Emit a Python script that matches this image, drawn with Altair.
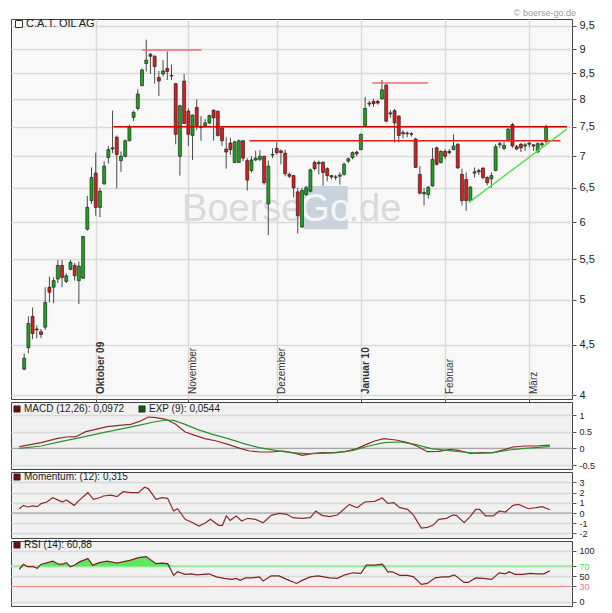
import altair as alt
import pandas as pd

# ---------------- data ----------------
opens = [4.25,4.47,4.81,4.67,4.64,4.69,5.15,5.15,5.25,5.42, 5.22,5.37,5.42,5.23,5.26,5.90,6.31,6.73,6.21,6.56,
         6.98,7.14,7.32,6.93,7.00,7.26,7.67,7.83,8.26,8.70, 8.89,8.85,8.42,8.49,8.60,8.46,8.30,7.00,8.35,7.78,
         7.35,7.85,7.51,7.52,7.57,7.80,7.78,7.48,7.12,7.22, 6.90,6.90,7.26,6.93,6.77,6.94,6.95,7.00,6.26,7.02,
         7.13,7.09,7.05,6.71,6.69,6.44,5.93,6.40,6.45,6.90, 6.88,6.90,6.80,6.69,6.66,6.68,6.71,6.92,6.98,7.07,
         7.11,7.52,7.91,7.96,7.96,8.01,8.27,7.73,7.79,7.69, 7.40,7.39,7.38,7.29,6.71,6.41,6.40,6.53,7.14,6.90,
         7.08,7.06,7.11,7.20,6.71,6.63,6.31,6.73,6.77,6.81, 6.66,6.64,6.77,7.19,7.13,7.26,7.54,7.16,7.20,7.17,
         7.20,7.19,7.07,7.19,7.25]
highs = [4.41,4.81,4.91,4.71,4.67,5.15,5.28,5.27,5.49,5.49, 5.32,5.49,5.45,5.47,5.81,6.38,6.82,7.06,6.50,6.92,
         7.17,7.79,7.35,7.08,7.28,7.54,7.79,8.19,8.60,9.20, 8.92,8.87,8.55,8.77,8.95,8.68,8.31,7.90,8.49,7.83,
         7.72,8.00,7.69,7.64,7.72,7.81,7.79,7.49,7.32,7.31, 7.26,7.28,7.27,6.97,7.00,7.09,7.10,7.01,6.93,7.13,
         7.23,7.11,7.11,6.74,6.70,6.50,6.50,6.53,6.80,6.93, 6.93,6.92,6.82,6.70,6.70,6.74,6.90,6.98,7.08,7.09,
         7.38,8.05,7.97,8.01,7.99,8.37,8.30,7.80,7.82,7.71, 7.44,7.42,7.41,7.31,6.84,6.50,6.53,7.14,7.16,7.10,
         7.12,7.12,7.37,7.22,6.80,6.74,6.53,6.82,6.80,6.82, 6.68,6.74,7.20,7.24,7.24,7.48,7.57,7.19,7.22,7.22,
         7.24,7.20,7.23,7.24,7.54]
lows = [4.24,4.41,4.56,4.57,4.57,4.66,4.97,4.96,5.20,5.15, 5.20,5.36,5.23,4.95,5.25,5.88,6.26,6.09,6.07,6.55,
        6.88,7.05,6.49,6.75,6.98,7.25,7.60,7.79,8.25,8.54, 8.49,8.30,8.06,8.44,8.37,8.37,7.20,6.69,7.55,7.17,
        6.94,7.44,7.26,7.49,7.55,7.26,7.33,7.17,6.80,7.02, 6.89,6.89,6.92,6.46,6.74,6.92,6.92,6.55,5.82,6.97,
        7.03,6.87,6.68,6.65,6.36,5.84,5.92,6.38,6.43,6.77, 6.71,6.53,6.60,6.63,6.62,6.55,6.69,6.89,6.95,7.00,
        7.10,7.51,7.86,7.86,7.90,8.00,7.58,7.66,7.23,7.23, 7.30,7.32,7.33,6.81,6.40,6.24,6.34,6.52,6.85,6.88,
        6.95,7.03,7.10,6.80,6.24,6.16,6.30,6.66,6.70,6.63, 6.54,6.50,6.76,7.14,7.10,7.24,7.14,7.10,7.07,7.09,
        7.15,7.09,7.06,7.14,7.21]
closes = [4.36,4.73,4.62,4.66,4.61,4.97,5.09,5.23,5.42,5.27, 5.29,5.46,5.29,5.41,5.80,6.21,6.66,6.21,6.45,6.84,
          7.11,7.12,7.03,7.00,7.26,7.50,7.76,8.10,8.57,8.77, 8.85,8.64,8.35,8.55,8.54,8.45,7.37,7.88,7.56,7.37,
          7.71,7.52,7.49,7.57,7.70,7.66,7.35,7.26,7.07,7.11, 7.24,7.26,6.97,6.62,6.94,6.97,7.00,6.58,6.84,7.03,
          7.06,7.06,6.72,6.68,6.50,6.09,6.46,6.50,6.78,6.80, 6.90,6.74,6.69,6.67,6.67,6.70,6.87,6.96,7.06,7.04,
          7.37,7.83,7.93,7.92,7.93,8.18,7.60,7.75,7.57,7.35, 7.38,7.38,7.37,6.82,6.42,6.43,6.51,6.95,6.87,7.08,
          7.00,7.08,7.17,6.81,6.31,6.31,6.51,6.75,6.75,6.66, 6.58,6.69,7.16,7.21,7.18,7.46,7.17,7.12,7.14,7.19,
          7.22,7.17,7.21,7.21,7.49]

month_labels = ["Oktober 09", "November", "Dezember", "Januar 10", "Februar", "März"]
month_start = [17, 39, 60, 80, 100, 120]
month_bold = [True, False, False, True, False, False]
price_ticks = [4, 4.5, 5, 5.5, 6, 6.5, 7, 7.5, 8, 8.5, 9, 9.5]

# drawn resistance / support / trend lines (trading-day index, price)
line_x0 = [28.0, 21.2, 53.5, 82.7, 105.6]
line_x1 = [42.1, 128.96, 127.4, 95.9, 128.9]
line_y0 = [8.98, 7.50, 7.26, 8.31, 6.28]
line_y1 = [8.98, 7.50, 7.26, 8.31, 7.46]
line_col = ["#f26b6b", "#cc0000", "#ea1c1c", "#f26b6b", "#4fe04f"]

macd_x = [0, 5.1, 8.7, 11, 13.2, 15.5, 17.8, 20.5, 23.3, 26, 28.3, 30.1, 31.9, 34.2, 36.5, 38.7, 41, 43.3, 46,
          48.7, 51.5, 53.7, 56, 58.7, 61.5, 63.8, 66, 68.3, 70.6, 73.3, 76, 78.8, 81, 82.9, 85.1, 87.9, 90.6,
          92.4, 95.2, 97.9, 100.6, 102.4, 105.2, 107.9, 110.6, 113.4, 115.2, 117.9, 120.6, 123.8]
macd_v = [0.05, 0.17, 0.29, 0.34, 0.35, 0.50, 0.57, 0.65, 0.69, 0.72, 0.82, 0.94, 0.92, 0.87, 0.72, 0.49, 0.39,
          0.29, 0.22, 0.12, 0.0, -0.08, -0.11, -0.11, -0.08, -0.13, -0.21, -0.16, -0.13, -0.13, -0.10, -0.01,
          0.12, 0.22, 0.29, 0.25, 0.17, 0.09, -0.10, -0.09, -0.03, -0.06, -0.15, -0.13, -0.13, -0.03, 0.04,
          0.07, 0.07, 0.097]
exp_x = [0, 5.1, 9.6, 14.2, 18.7, 23.3, 27.8, 31.4, 34.2, 36, 38.7, 41.5, 45.1, 48.7, 52.4, 56, 59.7, 63.3, 67,
         70.6, 74.2, 77.9, 81.5, 85.1, 88.8, 92.4, 96.1, 99.7, 103.4, 107, 110.6, 114.3, 117.9, 123.8]
exp_v = [0.0, 0.07, 0.2, 0.32, 0.45, 0.57, 0.69, 0.79, 0.85, 0.84, 0.72, 0.57, 0.42, 0.29, 0.14, 0.02, -0.06,
         -0.13, -0.16, -0.15, -0.13, -0.06, 0.07, 0.17, 0.19, 0.12, -0.01, -0.06, -0.11, -0.15, -0.13, -0.05,
         0.0, 0.054]
mom_x = [0, 1, 1.9, 3.2, 4.2, 5.1, 6.4, 7.8, 9.2, 10.1, 11, 12.8, 14.2, 16, 17.3, 18.7, 19.6, 21.4, 22.8, 24.2,
         26, 27.8, 29.2, 30.1, 31.9, 33.3, 34.6, 36, 36.9, 38.7, 40.5, 41.9, 43.3, 44.6, 46.5, 47.4, 48.3, 49.2,
         50.6, 51.9, 53.3, 55.1, 56.9, 58.8, 60.6, 62.4, 63.8, 66, 67.9, 69.2, 70.6, 72.4, 74.2, 77, 78.8, 80.6,
         82.9, 84.7, 86, 87.4, 88.8, 90.6, 92, 93.8, 95.2, 96.5, 97.9, 99.7, 101.1, 102, 103.8, 105.2, 106.5,
         107.4, 108.8, 110.6, 112, 113.4, 115.2, 116.5, 118.8, 120.6, 122, 123.8]
mom_v = [0.42, 0.75, 0.59, 0.69, 0.62, 0.92, 1.08, 1.5, 1.24, 1.08, 1.27, 0.75, 1.34, 1.99, 1.34, 1.5, 1.67, 1.76,
         1.6, 2.09, 1.99, 1.99, 2.52, 2.39, 1.34, 1.5, 1.44, 0.2, 0.42, -0.62, -0.95, -1.27, -1.01, -0.62, -1.21,
         -1.21, -0.29, -0.72, -0.29, -0.78, -0.52, -0.62, -0.95, -0.23, -0.03, -0.13, -0.46, -0.52, -0.46, 0.2,
         -0.23, -0.36, -0.2, 0.85, 0.52, 1.08, 1.14, 1.47, 0.95, 1.01, 0.52, 0.36, -0.23, -1.47, -1.41, -1.21,
         -0.62, -0.52, -0.2, -0.23, -0.95, -0.36, 0.36, 0.36, -0.29, -0.29, 0.2, 0.1, 0.75, 0.85, 0.42, 0.52,
         0.62, 0.315]
rsi_x = [0, 1, 1.9, 3.2, 4.2, 5.1, 7.8, 9.2, 10.1, 11, 11.9, 12.8, 14.2, 16, 17.1, 18.7, 20.5, 22.8, 26, 27.8,
         29.6, 31.9, 33.3, 34.6, 36, 36.9, 38.7, 40.1, 41.5, 44.2, 46, 47.8, 49.6, 50.6, 51.5, 52.8, 54.2, 56,
         56.9, 58.8, 60.6, 62.4, 64.7, 66, 67.9, 69.7, 72.4, 74.2, 76, 77.9, 79.7, 81, 82.9, 84.7, 86, 87, 88.8,
         90.6, 92, 93.8, 95.2, 97, 98.8, 100.2, 101.5, 103.8, 104.7, 106.5, 108.3, 110.2, 112, 113.4, 114.3,
         115.6, 117.4, 119.3, 120.6, 122.4, 123.8]
rsi_v = [64, 74, 69, 69, 66, 74, 80, 74, 74, 77, 69, 72, 79, 85, 72, 77, 80, 76, 82, 87, 89, 75, 76, 75, 52, 59,
         54, 55, 53, 55, 49, 46, 44, 46, 42, 47, 47, 49, 41, 51, 51, 44, 36, 42, 49, 51, 47, 46, 53, 57, 56, 72,
         72, 74, 59, 59, 52, 52, 49, 34, 36, 47, 49, 49, 53, 38, 38, 47, 46, 44, 57, 55, 59, 54, 54, 56, 55, 55,
         60.88]

# ---------------- styling ----------------
FONT = "Liberation Sans"
W = 561
H_MAIN, H_MACD, H_MOM, H_RSI = 380, 67, 66, 65
UP, DOWN = "#1fa31f", "#d91e1e"
GRID = "#dadada"
XS = alt.Scale(domain=[-1.94, 128.96], nice=False, zero=False)
one = pd.DataFrame({"k": [0]})

candles = pd.DataFrame({"day": list(range(len(closes))), "open": opens, "high": highs,
                        "low": lows, "close": closes})
candles["dir"] = ["up" if c >= o else "down" for o, c in zip(opens, closes)]

months = pd.DataFrame({"day": month_start, "label": month_labels, "bold": month_bold})
lines = pd.DataFrame({"x0": line_x0, "x1": line_x1, "y0": line_y0, "y1": line_y1, "col": line_col})

main_y = alt.Scale(type="log", domain=[3.963, 9.657], nice=False)
MAIN_X_AXIS = alt.Axis(values=month_start, labels=False, title=None, tickSize=4, tickColor="#555",
                       grid=True, gridColor=GRID, gridWidth=1.5, domain=False)
MAIN_Y_AXIS = alt.Axis(orient="right", values=price_ticks, title=None, grid=True, gridColor=GRID,
                       gridWidth=1.5, domain=False, tickSize=4, tickColor="#555", labelOverlap=False,
                       labelExpr="replace('' + datum.value, '.', ',')", labelFontSize=11,
                       labelPadding=3)

wm_box = alt.Chart(one).mark_rect(color="#c9d3de").encode(
    x=alt.value(292.7), x2=alt.value(336.7), y=alt.value(167), y2=alt.value(210.3))
wm_boerse = alt.Chart(one).mark_text(text="Boerse", font=FONT, fontSize=38, color="#dadada",
                                     align="right", baseline="alphabetic").encode(
    x=alt.value(291.5), y=alt.value(202))
wm_go = alt.Chart(one).mark_text(text="Go", font=FONT, fontSize=38, color="#f4f6f8",
                                 align="center", baseline="alphabetic").encode(
    x=alt.value(314.7), y=alt.value(202))
wm_de = alt.Chart(one).mark_text(text=".de", font=FONT, fontSize=38, color="#dadada",
                                 align="left", baseline="alphabetic").encode(
    x=alt.value(337.5), y=alt.value(202))

wick = alt.Chart(candles).mark_rule(color="#4a4a4a", strokeWidth=1).encode(
    x=alt.X("day:Q", scale=XS, axis=MAIN_X_AXIS),
    y=alt.Y("low:Q", scale=main_y, axis=MAIN_Y_AXIS),
    y2="high:Q")
body = alt.Chart(candles).mark_bar(size=3, stroke="#111", strokeWidth=0.6).encode(
    x=alt.X("day:Q", scale=XS, axis=MAIN_X_AXIS),
    y=alt.Y("open:Q", scale=main_y, axis=MAIN_Y_AXIS),
    y2="close:Q",
    color=alt.Color("dir:N", scale=alt.Scale(domain=["up", "down"], range=[UP, DOWN]), legend=None))
drawn = alt.Chart(lines).mark_rule(strokeWidth=1.5).encode(
    x=alt.X("x0:Q", scale=XS, axis=MAIN_X_AXIS), x2="x1:Q",
    y=alt.Y("y0:Q", scale=main_y, axis=MAIN_Y_AXIS), y2="y1:Q",
    color=alt.Color("col:N", scale=None))
title_box = alt.Chart(one).mark_square(size=49, fill="white", stroke="#333", strokeWidth=1, opacity=1).encode(
    x=alt.value(8), y=alt.value(5))
title_txt = alt.Chart(one).mark_text(text="C.A.T. OIL AG", font=FONT, fontSize=11, color="#222",
                                     align="left", baseline="middle").encode(x=alt.value(15), y=alt.value(5))
month_norm = alt.Chart(months).transform_filter("!datum.bold").mark_text(
    font=FONT, fontSize=10, color="#333", angle=270, align="left", baseline="top", dy=0).encode(
    x=alt.X("day:Q", scale=XS, axis=MAIN_X_AXIS), y=alt.value(375), text="label:N")
month_b = alt.Chart(months).transform_filter("datum.bold").mark_text(
    font=FONT, fontSize=10, fontWeight="bold", color="#333", angle=270, align="left", baseline="top",
    dy=0).encode(x=alt.X("day:Q", scale=XS, axis=MAIN_X_AXIS), y=alt.value(375), text="label:N")
copyright = alt.Chart(one).mark_text(text="© boerse-go.de", font=FONT, fontSize=9, color="#9a9a9a",
                                     align="right", baseline="bottom").encode(x=alt.value(565), y=alt.value(-1))

main = alt.layer(wm_box, wm_boerse, wm_go, wm_de, wick, body, drawn, title_box, title_txt,
                 month_norm, month_b, copyright).properties(
    width=W, height=H_MAIN, view=alt.ViewBackground(fill="#f8f8f8", stroke="#444", strokeWidth=1))


def ind_axis(values, color_cond=None):
    kw = dict(orient="right", values=values, title=None, grid=True, gridColor=GRID, gridWidth=1.5,
              domain=False, tickSize=4, tickColor="#555", labelExpr="'' + datum.value",
              labelFontSize=9, labelPadding=3, labelOverlap=False)
    if color_cond is not None:
        kw["labelColor"] = color_cond
    return alt.Axis(**kw)


def legend_sq(x, y, col):
    return alt.Chart(one).mark_square(size=40, fill=col, stroke="#222", strokeWidth=0.6, opacity=1).encode(
        x=alt.value(x), y=alt.value(y))


def legend_txt(x, y, txt):
    return alt.Chart(one).mark_text(text=txt, font=FONT, fontSize=10, color="#222", align="left",
                                    baseline="middle").encode(x=alt.value(x), y=alt.value(y))


# MACD panel
macd_df = pd.DataFrame({"day": macd_x, "v": macd_v})
exp_df = pd.DataFrame({"day": exp_x, "v": exp_v})
zero_df = pd.DataFrame({"v": [0]})
macd_y = alt.Scale(domain=[-0.62, 1.39], nice=False, zero=False)
MACD_AX = ind_axis([-0.5, 0, 0.5, 1])
macd_zero = alt.Chart(zero_df).mark_rule(color="#9a9a9a", strokeWidth=1).encode(
    y=alt.Y("v:Q", scale=macd_y, axis=MACD_AX))
macd_line = alt.Chart(macd_df).mark_line(color="#8e2b2b", strokeWidth=1.2).encode(
    x=alt.X("day:Q", scale=XS, axis=None), y=alt.Y("v:Q", scale=macd_y, axis=MACD_AX))
exp_line = alt.Chart(exp_df).mark_line(color="#2f8f2f", strokeWidth=1.2).encode(
    x=alt.X("day:Q", scale=XS, axis=None), y=alt.Y("v:Q", scale=macd_y, axis=MACD_AX))
macd = alt.layer(macd_zero, macd_line, exp_line,
                 legend_sq(6, 7, "#6e1010"), legend_txt(13, 7, "MACD (12,26): 0,0972"),
                 legend_sq(131, 7, "#0c5e0c"), legend_txt(138, 7, "EXP (9): 0,0544")).properties(
    width=W, height=H_MACD, view=alt.ViewBackground(fill="#f1f1f1", stroke="#444", strokeWidth=1))

# Momentum panel
mom_df = pd.DataFrame({"day": mom_x, "v": mom_v})
mom_y = alt.Scale(domain=[-2.45, 4.02], nice=False, zero=False)
MOM_AX = ind_axis([-2, -1, 0, 1, 2, 3])
mom_zero = alt.Chart(zero_df).mark_rule(color="#9a9a9a", strokeWidth=1).encode(
    y=alt.Y("v:Q", scale=mom_y, axis=MOM_AX))
mom_line = alt.Chart(mom_df).mark_line(color="#8e2b2b", strokeWidth=1.2).encode(
    x=alt.X("day:Q", scale=XS, axis=None), y=alt.Y("v:Q", scale=mom_y, axis=MOM_AX))
mom = alt.layer(mom_zero, mom_line, legend_sq(6, 5, "#6e1010"),
                legend_txt(13, 5, "Momentum: (12): 0,315")).properties(
    width=W, height=H_MOM, view=alt.ViewBackground(fill="#f1f1f1", stroke="#444", strokeWidth=1))

# RSI panel
rsi_df = pd.DataFrame({"day": rsi_x, "v": rsi_v})
rsi_y = alt.Scale(domain=[-8.5, 119.7], nice=False, zero=False)
lvl_df = pd.DataFrame({"v": [70, 30], "col": ["#9aee9a", "#f08a8a"], "w": [2.0, 1.2]})
rsi_color = {"condition": [{"test": "datum.value == 70", "value": "#55d655"},
                           {"test": "datum.value == 30", "value": "#f57a7a"}], "value": "#222"}
RSI_AX = ind_axis([0, 30, 50, 70, 100], rsi_color)
rsi_area = alt.Chart(rsi_df).transform_calculate(hi="max(datum.v, 70)", base="70").mark_area(
    color="#5ee85e", opacity=1).encode(
    x=alt.X("day:Q", scale=XS, axis=None), y=alt.Y("hi:Q", scale=rsi_y, axis=RSI_AX), y2="base:Q")
rsi_lvl = alt.Chart(lvl_df).mark_rule().encode(
    y=alt.Y("v:Q", scale=rsi_y, axis=RSI_AX), color=alt.Color("col:N", scale=None),
    strokeWidth=alt.StrokeWidth("w:Q", scale=None))
rsi_line = alt.Chart(rsi_df).mark_line(color="#7e2222", strokeWidth=1.2).encode(
    x=alt.X("day:Q", scale=XS, axis=None), y=alt.Y("v:Q", scale=rsi_y, axis=RSI_AX))
rsi = alt.layer(rsi_lvl, rsi_area, rsi_line, legend_sq(6, 4, "#6e1010"),
                legend_txt(13, 4, "RSI (14): 60,88")).properties(
    width=W, height=H_RSI, view=alt.ViewBackground(fill="#f1f1f1", stroke="#444", strokeWidth=1))

chart = alt.vconcat(main, macd, mom, rsi, spacing=3, bounds="flush").properties(
    padding={"left": 1, "top": 0, "right": 0, "bottom": 0}
).configure_axis(labelFont=FONT, labelColor="#222")

chart.save("out.html", embed_options={"renderer": "svg", "actions": False})
